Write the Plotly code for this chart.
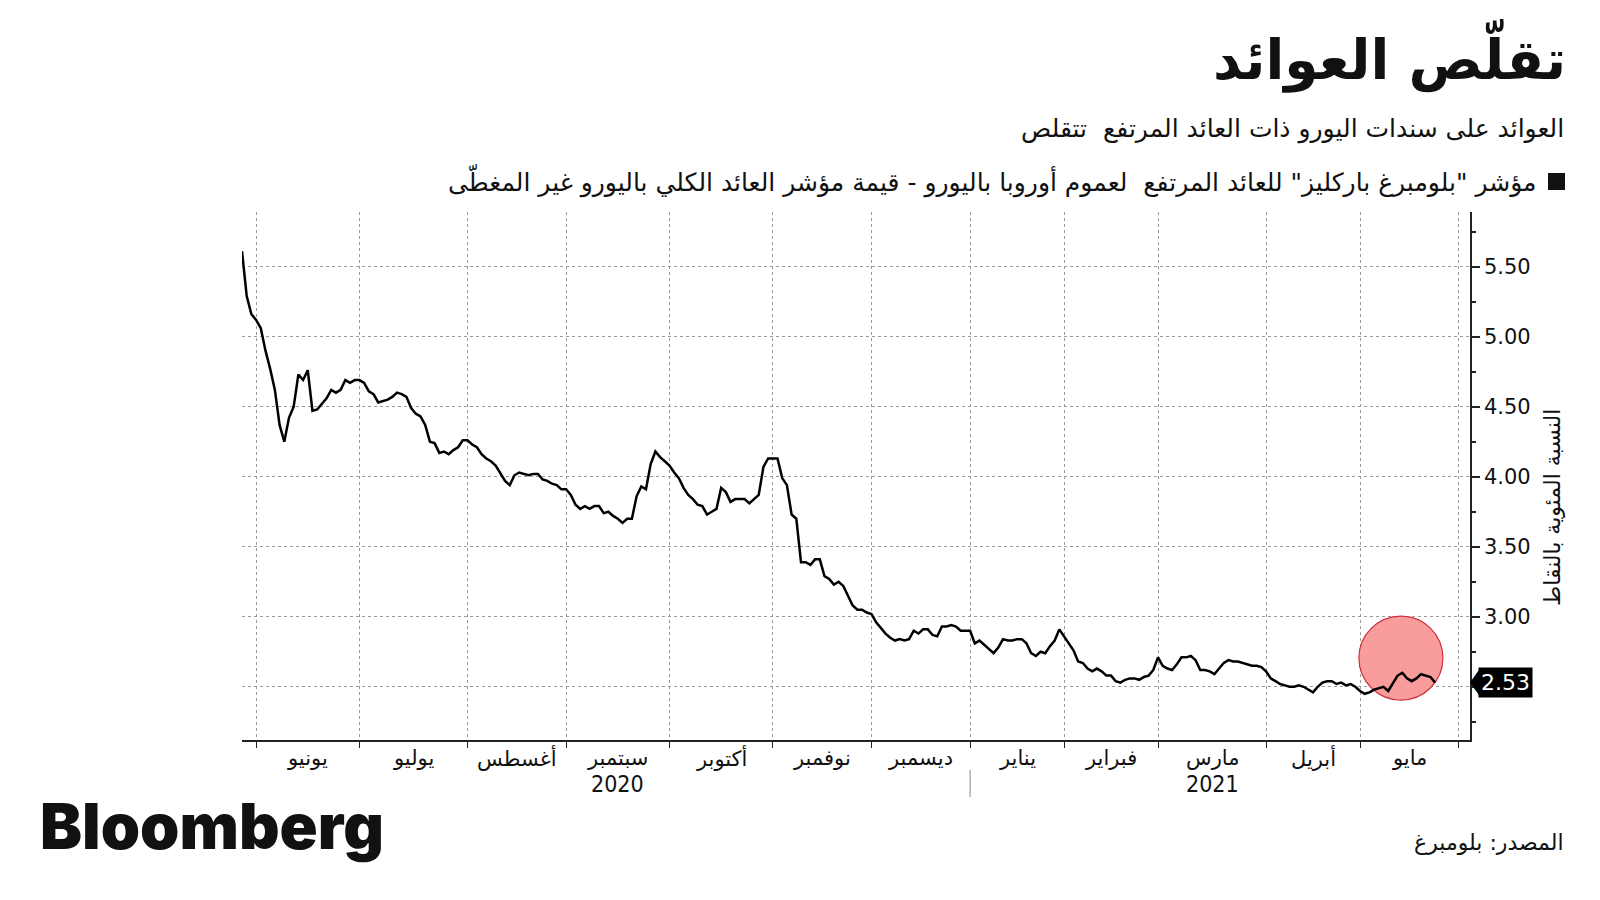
import pandas as pd
import plotly.graph_objects as go

# ---------------- text ----------------
TITLE = "تقلّص العوائد"
SUBTITLE = "العوائد على سندات اليورو ذات العائد المرتفع  تتقلص"
LEGEND_TEXT = 'مؤشر "بلومبرغ باركليز" للعائد المرتفع  لعموم أوروبا باليورو - قيمة مؤشر العائد الكلي باليورو غير المغطّى'
Y_TITLE = "النسبة المئوية بالنقاط"
SOURCE = "المصدر: بلومبرغ"
LOGO = "Bloomberg"

month_names = ["يونيو", "يوليو", "أغسطس", "سبتمبر", "أكتوبر", "نوفمبر",
               "ديسمبر", "يناير", "فبراير", "مارس", "أبريل", "مايو"]
year_labels = {"2020": 3, "2021": 9}   # label under month index

# ---------------- data (one value per trading day) ----------------
holidays = ["2020-12-25", "2020-12-31", "2021-01-01", "2021-04-02", "2021-04-05"]

may20 = [5.61, 5.29, 5.16]
jun20 = [5.12, 5.06, 4.90, 4.77, 4.62, 4.37, 4.25, 4.42, 4.50, 4.73, 4.69, 4.76,
         4.47, 4.48, 4.52, 4.56, 4.62, 4.60, 4.62, 4.69, 4.67, 4.69]
jul20 = [4.69, 4.67, 4.61, 4.59, 4.53, 4.54, 4.55, 4.57, 4.60, 4.59, 4.57, 4.49,
         4.45, 4.43, 4.37, 4.25, 4.24, 4.17, 4.18, 4.16, 4.19, 4.21, 4.26]
aug20 = [4.26, 4.23, 4.21, 4.16, 4.13, 4.11, 4.08, 4.02, 3.97, 3.94, 4.01, 4.03,
         4.02, 4.01, 4.02, 4.02, 3.98, 3.97, 3.95, 3.94, 3.91]
sep20 = [3.91, 3.87, 3.80, 3.77, 3.79, 3.77, 3.79, 3.79, 3.74, 3.75, 3.72, 3.70,
         3.67, 3.70, 3.70, 3.86, 3.93, 3.91, 4.09, 4.18, 4.14, 4.11]
oct20 = [4.08, 4.03, 3.99, 3.92, 3.87, 3.84, 3.80, 3.79, 3.73, 3.75, 3.77, 3.92,
         3.89, 3.82, 3.84, 3.84, 3.84, 3.81, 3.84, 3.87, 4.07, 4.13]
nov20 = [4.13, 4.13, 3.99, 3.94, 3.73, 3.70, 3.39, 3.39, 3.37, 3.41, 3.41, 3.29,
         3.27, 3.23, 3.25, 3.22, 3.15, 3.08, 3.05, 3.05, 3.03]
dec20 = [3.02, 2.96, 2.92, 2.88, 2.85, 2.83, 2.84, 2.83, 2.84, 2.90, 2.88, 2.91,
         2.91, 2.87, 2.86, 2.93, 2.93, 2.94, 2.93, 2.90, 2.90]
jan21 = [2.90, 2.81, 2.83, 2.80, 2.77, 2.74, 2.78, 2.84, 2.83, 2.83, 2.84, 2.84,
         2.81, 2.74, 2.72, 2.75, 2.74, 2.79, 2.83, 2.91]
feb21 = [2.86, 2.81, 2.76, 2.68, 2.67, 2.63, 2.61, 2.63, 2.61, 2.58, 2.58, 2.54,
         2.53, 2.55, 2.56, 2.56, 2.55, 2.57, 2.58, 2.62]
mar21 = [2.71, 2.65, 2.63, 2.62, 2.66, 2.71, 2.71, 2.72, 2.69, 2.62, 2.62, 2.61,
         2.59, 2.63, 2.67, 2.69, 2.68, 2.68, 2.67, 2.66, 2.65, 2.65, 2.64]
apr21 = [2.61, 2.56, 2.54, 2.52, 2.51, 2.50, 2.50, 2.51, 2.50, 2.48, 2.46, 2.50,
         2.53, 2.54, 2.54, 2.52, 2.53, 2.51, 2.52, 2.50]
may21 = [2.47, 2.45, 2.46, 2.48, 2.49, 2.50, 2.47, 2.53, 2.58, 2.60, 2.56, 2.54,
         2.56, 2.59, 2.58, 2.57, 2.53]

series_start = "2020-05-27"
x_end = "2021-06-03 10:00"
y_range = [2.12, 5.89]
y_ticks = [2.5, 3.0, 3.5, 4.0, 4.5, 5.0, 5.5]

highlight_date = "2021-05-13 17:00"
highlight_value = 2.705

# ---------------- build series ----------------
values = (may20 + jun20 + jul20 + aug20 + sep20 + oct20 + nov20 + dec20 +
          jan21 + feb21 + mar21 + apr21 + may21)
cal = pd.bdate_range(series_start, "2021-07-30", freq="C", holidays=holidays)
dates = cal[:len(values)]

# month starts (first trading day of each month) Jun 2020 .. Jun 2021
month_starts = []
seen = set()
for i, d in enumerate(cal):
    key = (d.year, d.month)
    if key not in seen:
        seen.add(key)
        month_starts.append(i)
month_starts = month_starts[1:14]  # drop May 2020
grid_dates = [cal[i] for i in month_starts]

# label positions: mid trading-day between month starts
label_dates = []
for a, b in zip(month_starts[:-1], month_starts[1:]):
    mid = (a + b) / 2.0
    base = cal[int(mid)]
    label_dates.append(base + pd.Timedelta(hours=24 * (mid - int(mid))))

# ---------------- geometry helpers (pixels -> paper) ----------------
L, R, T, B = 242, 1470, 212, 740
def xp(px):
    return (px - L) / (R - L)
def yp(py):
    return (B - py) / (B - T)

AR_FONT = "DejaVu Sans"
fig = go.Figure()

fig.add_trace(go.Scatter(
    x=dates, y=values, mode="lines",
    line=dict(color="black", width=2.5),
    hoverinfo="x+y", showlegend=False,
))

# highlight circle
fig.add_shape(type="circle", xref="x", yref="y",
              xsizemode="pixel", ysizemode="pixel",
              xanchor=highlight_date, yanchor=highlight_value,
              x0=-42, x1=42, y0=-42, y1=42,
              fillcolor="#f99c9c", line=dict(color="#d0303a", width=1.2),
              layer="between")

# last value label with pointer
last = values[-1]
fig.add_annotation(xref="paper", yref="y", x=xp(1478), y=last,
                   xanchor="left", yanchor="middle",
                   text=f"{last:.2f}", showarrow=False,
                   font=dict(family="DejaVu Sans", size=22, color="white"),
                   bgcolor="black", borderpad=2)
dy = 0.1
fig.add_shape(type="path", xref="paper", yref="y",
              path=f"M {xp(1470)},{last} L {xp(1480)},{last + dy} L {xp(1480)},{last - dy} Z",
              fillcolor="black", line=dict(width=0), layer="above")

# month labels
for name, d in zip(month_names, label_dates):
    fig.add_annotation(xref="x", yref="paper", x=d, y=yp(758),
                       text=name, showarrow=False, yanchor="middle",
                       font=dict(family=AR_FONT, size=21, color="#111"))
for yr, idx in year_labels.items():
    fig.add_annotation(xref="x", yref="paper", x=label_dates[idx], y=yp(784),
                       text=yr, showarrow=False, yanchor="middle",
                       font=dict(family="DejaVu Sans Condensed", size=23, color="#111"))
# year separator
fig.add_shape(type="line", xref="x", yref="paper",
              x0=grid_dates[7], x1=grid_dates[7], y0=yp(770), y1=yp(797),
              line=dict(color="#888", width=1))

# titles
fig.add_annotation(xref="paper", yref="paper", x=xp(1568), y=yp(56),
                   xanchor="right", yanchor="middle", showarrow=False,
                   text=f"<b>{TITLE}</b>",
                   font=dict(family=AR_FONT, size=55, color="#111"))
fig.add_annotation(xref="paper", yref="paper", x=xp(1566), y=yp(129),
                   xanchor="right", yanchor="middle", showarrow=False,
                   text=SUBTITLE,
                   font=dict(family=AR_FONT, size=25, color="#111"))
fig.add_annotation(xref="paper", yref="paper", x=xp(1538), y=yp(181),
                   xanchor="right", yanchor="middle", showarrow=False,
                   text=LEGEND_TEXT,
                   font=dict(family=AR_FONT, size=25, color="#111"))
fig.add_shape(type="rect", xref="paper", yref="paper",
              x0=xp(1548), x1=xp(1565), y0=yp(190), y1=yp(173),
              fillcolor="#111", line=dict(width=0))

# y axis title
fig.add_annotation(xref="paper", yref="paper", x=xp(1552), y=yp(508),
                   xanchor="center", yanchor="middle", showarrow=False,
                   text=Y_TITLE, textangle=-90,
                   font=dict(family=AR_FONT, size=22, color="#111"))

# source & logo
fig.add_annotation(xref="paper", yref="paper", x=xp(1566), y=yp(842),
                   xanchor="right", yanchor="middle", showarrow=False,
                   text=SOURCE, font=dict(family=AR_FONT, size=22, color="#111"))
fig.add_annotation(xref="paper", yref="paper", x=xp(38), y=yp(826),
                   xanchor="left", yanchor="middle", showarrow=False,
                   text=LOGO,
                   font=dict(family="Inter", size=63, color="#111", weight=900))

fig.update_layout(
    width=1600, height=900,
    margin=dict(l=L, r=1600 - R, t=T, b=900 - B),
    paper_bgcolor="white", plot_bgcolor="white",
    showlegend=False,
    xaxis=dict(
        type="date",
        range=[series_start, x_end],
        rangebreaks=[dict(bounds=["sat", "mon"]), dict(values=holidays)],
        tickvals=grid_dates, ticktext=[""] * len(grid_dates),
        ticks="outside", ticklen=6, tickcolor="#222", tickwidth=1,
        showgrid=True, gridcolor="#9a9a9a", griddash="dot", gridwidth=1,
        showline=True, linecolor="#222", linewidth=1.5,
        zeroline=False, fixedrange=True,
    ),
    yaxis=dict(
        side="right", range=y_range,
        tickvals=y_ticks,
        ticktext=["" if v == 2.5 else f"{v:.2f}" for v in y_ticks],
        ticks="outside", ticklen=8, tickcolor="#222", tickwidth=1.5,
        minor=dict(dtick=0.25, tick0=2.0, ticks="outside", ticklen=4,
                   tickcolor="#222", showgrid=False),
        showgrid=True, gridcolor="#9a9a9a", griddash="dot", gridwidth=1,
        showline=True, linecolor="#222", linewidth=1.5,
        zeroline=False, fixedrange=True,
        tickfont=dict(family="DejaVu Sans", size=21, color="#111"),
    ),
)

fig.write_html("out.html")
